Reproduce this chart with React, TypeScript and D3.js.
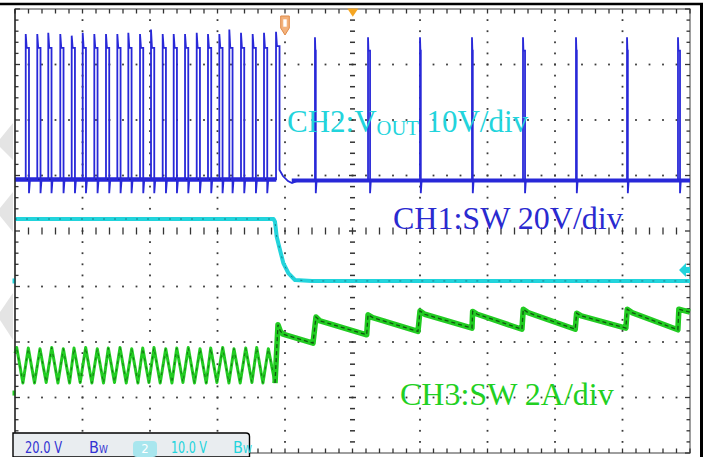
import React from 'react';
import * as d3 from 'd3';

const W = 710;
const H = 457;

// time axis in divisions (0..10), amplitude in divisions (-4..4)
const X_DIVS = d3.range(0, 11);
const Y_DIVS = d3.range(-4, 5);

// ---- CH1 : SW (blue) ----
const ch1BurstTimes = [0.159, 0.330, 0.493, 0.671, 0.840, 1.003, 1.175, 1.348, 1.516, 1.679, 1.852, 2.015, 2.188, 2.351, 2.519, 2.692, 2.859, 3.027, 3.175, 3.348, 3.521, 3.689];
const ch1BurstPeaks = [3.55, 3.55, 3.57, 3.55, 3.52, 3.57, 3.55, 3.55, 3.55, 3.57, 3.55, 3.63, 3.55, 3.55, 3.55, 3.57, 3.55, 3.55, 3.63, 3.57, 3.55, 3.57];
const ch1BurstPlateau = 3.30;
const ch1BurstWidth = 0.048;
const ch1BaseLeft = 0.93;
const ch1Undershoot = 0.68;
const ch1LastPulse: [number, number][] = [[3.867, 0.93], [3.867, 3.59], [3.881, 3.33], [3.919, 3.33], [3.919, 1.10], [3.970, 0.99], [4.044, 0.90], [4.104, 0.865], [4.2, 0.91]];
const ch1SkipTimes = [4.444, 5.230, 6.000, 6.770, 7.526, 8.311, 9.067, 9.822];
const ch1SkipPeaks = [3.49, 3.49, 3.49, 3.49, 3.49, 3.49, 3.49, 3.49];
const ch1SkipWidths = [0.012, 0.03, 0.012, 0.012, 0.03, 0.012, 0.012, 0.03];
const ch1SkipPlateau = 3.25;
const ch1BaseRight = 0.91;

// ---- CH2 : VOUT (cyan) ----
const ch2Points: [number, number][] = [[0, 0.216], [3.830, 0.216], [3.852, 0.168], [3.877, -0.103], [3.926, -0.342], [3.975, -0.577], [4.049, -0.757], [4.148, -0.883], [4.4, -0.90], [10, -0.90]];

// ---- CH3 : inductor current (green) ----
const ch3Ripple: [number, number][] = [
  [0, -2.2], [0.025, -2.10], [0.117, -2.74], [0.197, -2.11], [0.289, -2.74], [0.370, -2.12], [0.462, -2.73],
  [0.544, -2.10], [0.636, -2.74], [0.716, -2.12], [0.808, -2.74], [0.874, -2.11], [0.966, -2.73], [1.047, -2.10],
  [1.139, -2.74], [1.219, -2.12], [1.311, -2.74], [1.382, -2.11], [1.474, -2.73], [1.556, -2.10], [1.648, -2.74],
  [1.729, -2.12], [1.821, -2.74], [1.892, -2.11], [1.984, -2.73], [2.059, -2.10], [2.151, -2.74], [2.233, -2.12],
  [2.325, -2.74], [2.396, -2.11], [2.488, -2.73], [2.567, -2.10], [2.659, -2.74], [2.741, -2.12], [2.833, -2.74],
  [2.899, -2.11], [2.991, -2.73], [3.077, -2.10], [3.169, -2.74], [3.244, -2.12], [3.336, -2.74], [3.418, -2.11],
  [3.510, -2.73], [3.581, -2.10], [3.673, -2.74], [3.753, -2.12], [3.852, -2.74],
];
const ch3Skip: [number, number][] = [
  [3.852, -2.74], [3.896, -1.69], [3.930, -1.80], [3.970, -1.86], [4.415, -2.02], [4.459, -1.55], [4.52, -1.62],
  [5.21, -1.87], [5.23, -1.51], [5.30, -1.56], [5.97, -1.81], [6.0, -1.44], [6.07, -1.50], [6.77, -1.75],
  [6.78, -1.45], [6.85, -1.50], [7.51, -1.77], [7.53, -1.41], [7.60, -1.47], [8.30, -1.77], [8.32, -1.48],
  [8.39, -1.53], [9.05, -1.75], [9.07, -1.41], [9.14, -1.47], [9.82, -1.78], [9.835, -1.41], [9.90, -1.43], [10, -1.46],
];

const BLUE = '#2828d8';
const CYAN = '#22d4dc';
const GREEN = '#22cc22';
const SERIF = '"Liberation Serif", "Times New Roman", serif';
const NARROW = '"Liberation Sans Narrow", "DejaVu Sans Condensed", "Liberation Sans", sans-serif';

export default function App() {
  const x = d3.scaleLinear().domain([0, 10]).range([15, 690]);
  const y = d3.scaleLinear().domain([-4, 4]).range([453, 9]);
  const line = d3.line<[number, number]>().x(d => x(d[0])).y(d => y(d[1]));

  const minorX = d3.range(0, 50.5, 1).map(i => i / 5);
  const minorY = d3.range(-20, 20.5, 1).map(i => i / 5);

  // CH1 path
  const ch1: [number, number][] = [[0, ch1BaseLeft]];
  ch1BurstTimes.forEach((t, i) => {
    ch1.push([t, ch1BaseLeft], [t, ch1BurstPeaks[i]], [t + 0.014, ch1BurstPlateau], [t + ch1BurstWidth, ch1BurstPlateau], [t + ch1BurstWidth, ch1Undershoot], [t + ch1BurstWidth + 0.015, ch1BaseLeft]);
  });
  ch1.push(...ch1LastPulse);
  ch1SkipTimes.forEach((t, i) => {
    const w = ch1SkipWidths[i];
    ch1.push([t, ch1BaseRight], [t, ch1SkipPeaks[i]], [t + 0.006, ch1SkipPlateau], [t + w, ch1SkipPlateau], [t + w, ch1Undershoot], [t + w + 0.012, ch1BaseRight]);
  });
  ch1.push([10, ch1BaseRight]);

  const dots: JSX.Element[] = [];
  X_DIVS.filter(i => i > 0 && i < 10 && i !== 5).forEach(i => {
    minorY.filter(v => v > -4 && v < 4).forEach(v => {
      dots.push(<rect key={`vx${i}_${v}`} x={x(i) - 0.9} y={y(v) - 0.9} width={1.8} height={1.8} fill="#3a3a3a" />);
    });
  });
  Y_DIVS.filter(j => j > -4 && j < 4 && j !== 0).forEach(j => {
    minorX.filter(t => t > 0 && t < 10).forEach(t => {
      dots.push(<rect key={`hy${j}_${t}`} x={x(t) - 0.9} y={y(j) - 0.9} width={1.8} height={1.8} fill="#3a3a3a" />);
    });
  });

  return (
    <svg width={W} height={H} style={{ position: 'absolute', left: 0, top: 0, display: 'block', background: '#fff' }}>
      <rect x={0} y={0} width={W} height={H} fill="#fff" />
      {/* watermark fragments */}
      <g fill="#e4e4e4">
        <polygon points="13,123 0,139 0,147 13,160" />
        <polygon points="13,192 0,208 0,216 13,232" />
        <polygon points="13,293 0,312 0,320 13,340" />
      </g>
      {/* outer frame */}
      <line x1={0} x2={703} y1={4} y2={4} stroke="#000" strokeWidth={2.5} />
      <line x1={701.5} x2={701.5} y1={3} y2={H} stroke="#000" strokeWidth={3} />

      {/* graticule */}
      <rect x={x(0)} y={y(4)} width={x(10) - x(0)} height={y(-4) - y(4)} fill="none" stroke="#6a6a6a" strokeWidth={1.3} />
      {dots}
      {/* center axes */}
      {minorY.filter(v => v > -4 && v < 4).map(v => (
        <line key={`cv${v}`} x1={x(5) - (Number.isInteger(v) ? 3.5 : 2.5)} x2={x(5) + (Number.isInteger(v) ? 3.5 : 2.5)} y1={y(v)} y2={y(v)} stroke="#333" strokeWidth={1.5} />
      ))}
      {minorX.filter(t => t > 0 && t < 10).map(t => (
        <line key={`ch${t}`} x1={x(t)} x2={x(t)} y1={y(0) - 3.5} y2={y(0) + 3.5} stroke="#333" strokeWidth={1.3} />
      ))}
      {/* border ticks */}
      {minorX.map(t => (
        <line key={`tt${t}`} x1={x(t)} x2={x(t)} y1={y(4)} y2={y(4) + 4.5} stroke="#333" strokeWidth={1.3} />
      ))}
      {minorX.filter(t => x(t) > 252).map(t => (
        <line key={`tb${t}`} x1={x(t)} x2={x(t)} y1={y(-4)} y2={y(-4) - 4.5} stroke="#333" strokeWidth={1.3} />
      ))}
      {minorY.map(v => (
        <line key={`tl${v}`} x1={x(0)} x2={x(0) + (Number.isInteger(v) ? 5 : 3.5)} y1={y(v)} y2={y(v)} stroke="#333" strokeWidth={1.3} />
      ))}
      {minorY.map(v => (
        <line key={`tr${v}`} x1={x(10)} x2={x(10) - (Number.isInteger(v) ? 5 : 3.5)} y1={y(v)} y2={y(v)} stroke="#333" strokeWidth={1.3} />
      ))}

      {/* CH2 VOUT */}
      <path d={line(ch2Points) || ''} fill="none" stroke={CYAN} strokeWidth={4} strokeLinejoin="round" />
      <path d={line(ch2Points) || ''} fill="none" stroke="#0e5a66" strokeWidth={1} strokeDasharray="2 9" opacity={0.7} />

      {/* CH1 SW */}
      <path d={line([[0, ch1BaseLeft], [3.87, ch1BaseLeft]]) || ''} stroke={BLUE} strokeWidth={4.5} fill="none" />
      <path d={line([[4.1, ch1BaseRight], [10, ch1BaseRight]]) || ''} stroke={BLUE} strokeWidth={4} fill="none" />
      <path d={line([[0, ch1BaseLeft], [3.87, ch1BaseLeft]]) || ''} stroke="#16167a" strokeWidth={1.2} strokeDasharray="6 4" fill="none" opacity={0.8} />
      <path d={line(ch1) || ''} fill="none" stroke={BLUE} strokeWidth={1.8} strokeLinejoin="miter" />

      {/* CH3 inductor current */}
      <path d={line(ch3Ripple) || ''} fill="none" stroke={GREEN} strokeWidth={3} strokeLinejoin="round" />
      <path d={line(ch3Ripple) || ''} fill="none" stroke="#0c4a0c" strokeWidth={0.9} strokeDasharray="3 5" opacity={0.7} />
      <path d={line(ch3Skip) || ''} fill="none" stroke={GREEN} strokeWidth={5.5} strokeLinejoin="round" />
      <path d={line(ch3Skip) || ''} fill="none" stroke="#0c3a0c" strokeWidth={1.3} strokeDasharray="4 3" opacity={0.8} />

      {/* channel markers */}
      <rect x={12.5} y={y(-0.9) - 2.5} width={3} height={5} fill={CYAN} />
      <rect x={12.5} y={y(-2.92) - 2.5} width={3} height={5} fill={GREEN} />
      <polygon points={`679,270 686,263 686,267 690,267 690,273 686,273 686,277`} fill={CYAN} />

      {/* trigger markers */}
      <path d="M280.7,16 L289.3,16 L289.3,28 L285,35 L280.7,28 Z" fill="#f3b27c" stroke="#e08a48" strokeWidth={1} />
      <rect x={283.3} y={19.3} width={3.4} height={7.4} fill="#fff" />
      <polygon points="347.3,8.5 358.3,8.5 352.8,16.7" fill="#f5a623" />

      {/* annotations */}
      <text x={287} y={132} fontFamily={SERIF} fontSize={31} fill={CYAN}>
        CH2:V<tspan fontSize={20.5} dy={3}>OUT</tspan><tspan fontSize={31} dy={-3}> 10V/div</tspan>
      </text>
      <text x={393} y={229} fontFamily={SERIF} fontSize={32} fill="#2a2ad0">CH1:SW 20V/div</text>
      <text x={400} y={405} fontFamily={SERIF} fontSize={32} fill="#22d022">CH3:SW 2A/div</text>

      {/* status bar */}
      <path d="M13,457 L13,433 L246,433 Q249.5,433 249.5,436.5 L249.5,457 Z" fill="#e9edf0" stroke="#000" strokeWidth={1.4} />
      <line x1={x(0)} x2={x(0)} y1={y(4)} y2={433} stroke="#222" strokeWidth={1.3} />
      <text x={25} y={453} fontFamily={NARROW} fontSize={16} fill="#3232d2" textLength={37} lengthAdjust="spacingAndGlyphs">20.0 V</text>
      <text x={89} y={453} fontFamily={NARROW} fontSize={16} fill="#3232d2">B<tspan fontSize={10}>W</tspan></text>
      <rect x={133} y={441} width={24} height={16} rx={4} fill="#a8e6ee" />
      <text x={145} y={453} fontFamily={NARROW} fontSize={13} fill="#fff" textAnchor="middle">2</text>
      <text x={171} y={453} fontFamily={NARROW} fontSize={16} fill={CYAN} textLength={36} lengthAdjust="spacingAndGlyphs">10.0 V</text>
      <text x={233} y={453} fontFamily={NARROW} fontSize={16} fill={CYAN}>B<tspan fontSize={10}>W</tspan></text>
    </svg>
  );
}
